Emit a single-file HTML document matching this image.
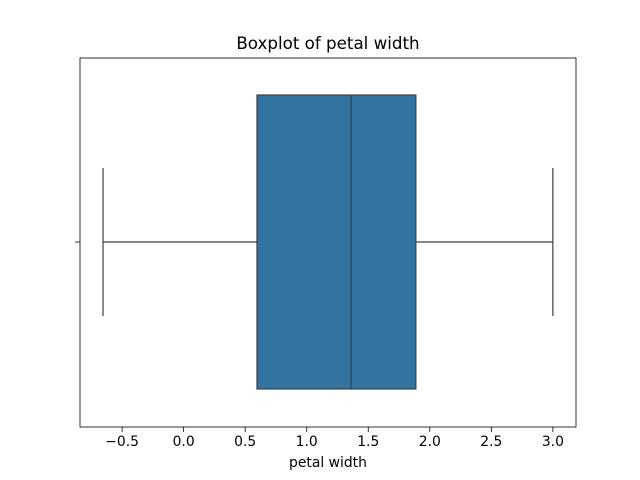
<!DOCTYPE html>
<html><head><meta charset="utf-8"><style>body{margin:0;background:#fff}svg{display:block;font-family:"DejaVu Sans","Liberation Sans",sans-serif}</style></head>
<body>
<svg id="chart" width="640" height="480">
<rect width="640" height="480" fill="#fff"/>
<text x="328" y="49" text-anchor="middle" font-size="16.7">Boxplot of petal width</text>
<g id="plot"></g>
<rect x="80" y="58" width="496" height="369" fill="none" stroke="#000" stroke-width="0.8"/>
<text x="328" y="467" text-anchor="middle" font-size="13.9">petal width</text>
</svg>
<script>
const tickValues = [-0.5, 0.0, 0.5, 1.0, 1.5, 2.0, 2.5, 3.0];
const tickLabels = ["\u22120.5","0.0","0.5","1.0","1.5","2.0","2.5","3.0"];
const whiskerLow = [-0.655];
const q1 = [0.596];
const median = [1.36];
const q3 = [1.887];
const whiskerHigh = [3.0];
const xMin = -0.842, xMax = 3.188, plotL = 80, plotR = 576;
function x(v){return plotL + (v - xMin) / (xMax - xMin) * (plotR - plotL);}
const NS = "http://www.w3.org/2000/svg";
const g = document.getElementById('plot');
function mk(tag, attrs){const e=document.createElementNS(NS,tag);for(const k in attrs)e.setAttribute(k,attrs[k]);g.appendChild(e);return e;}
const cy = 242, boxTop = 95, boxBot = 389, capT = 168, capB = 316, lc = "#3f3f3f";
let e;
e = mk('line',{x1:x(whiskerLow[0]),x2:x(q1[0]),y1:cy,y2:cy,stroke:lc,'stroke-width':1.2});


e = mk('line',{x1:x(q3[0]),x2:x(whiskerHigh[0]),y1:cy,y2:cy,stroke:lc,'stroke-width':1.2});


e = mk('line',{x1:x(whiskerLow[0]),x2:x(whiskerLow[0]),y1:capT,y2:capB,stroke:lc,'stroke-width':1.2});


e = mk('line',{x1:x(whiskerHigh[0]),x2:x(whiskerHigh[0]),y1:capT,y2:capB,stroke:lc,'stroke-width':1.2});


e = mk('rect',{x:x(q1[0]),y:boxTop,width:x(q3[0])-x(q1[0]),height:boxBot-boxTop,fill:"#3274a1",stroke:lc,'stroke-width':1.2});


e = mk('line',{x1:x(median[0]),x2:x(median[0]),y1:boxTop,y2:boxBot,stroke:lc,'stroke-width':1.2});


e = mk('line',{x1:75,x2:80,y1:cy,y2:cy,stroke:"#000",'stroke-width':0.8});


tickValues.forEach((v,i)=>{
  const t = mk('line',{x1:x(v),x2:x(v),y1:427,y2:432,stroke:"#000",'stroke-width':0.8});
  
  
  const l = mk('text',{x:x(v),y:446,'text-anchor':'middle','font-size':13.9});
  l.textContent = tickLabels[i];
  
  
});
</script>
</body></html>
